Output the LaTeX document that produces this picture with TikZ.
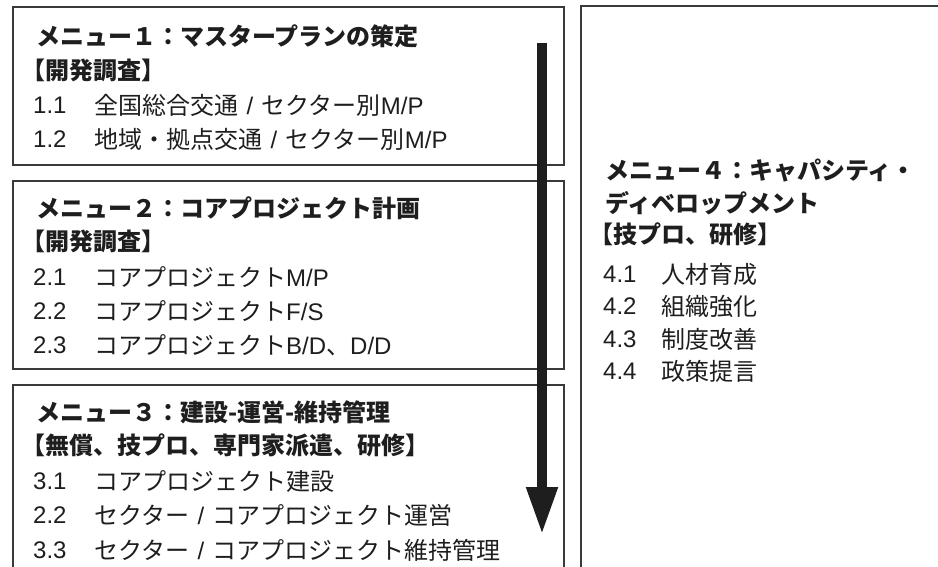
\documentclass[tikz,border=0pt]{standalone}
\usepackage{fontspec}
\newfontfamily\jp{Noto Sans CJK JP}
\newfontfamily\lat{Liberation Sans}
\usetikzlibrary{arrows.meta}
\definecolor{ink}{HTML}{1E1E1E}
\definecolor{rule}{HTML}{3A3A3A}
\newcommand{\slsh}{\hspace{8.5pt}{\lat/}\hspace{8.5pt}}
\tikzset{
  frame/.style={draw=rule, line width=1.2pt},
  ttl/.style={anchor=west, inner sep=0pt, font=\jp\bfseries\fontsize{24}{28}\selectfont, text=ink},
  itm/.style={anchor=west, inner sep=0pt, font=\jp\fontsize{24}{28}\selectfont, text=ink},
  num/.style={anchor=west, inner sep=0pt, font=\lat\fontsize{24}{28}\selectfont, text=ink},
  flow/.style={ink, line width=10.5pt, -{Triangle[width=29pt,length=48pt]}}
}
\begin{document}
\begin{tikzpicture}[x=1pt,y=-1pt]
\useasboundingbox (0,0) rectangle (938,567);
% boxes
\draw[frame] (13,7) rectangle (564,165);
\draw[frame] (13,181) rectangle (564,369);
\draw[frame] (13,385) rectangle (564,590);
\draw[frame] (581,6) rectangle (960,590);
% box 1
\node[ttl] (t1) at (36,36) {メニュー１：マスタープランの策定};
\node[ttl] (b1) at (21,70) {【開発調査】};
\node[num] (n11) at (33,105) {1.1};
\node[itm] (i11) at (94,105) {全国総合交通\slsh セクター別{\lat M/P}};
\node[num] (n12) at (33,139) {1.2};
\node[itm] (i12) at (94,139) {地域・拠点交通\slsh セクター別{\lat M/P}};
% box 2
\node[ttl] (t2) at (36,208) {メニュー２：コアプロジェクト計画};
\node[ttl] (b2) at (21,241) {【開発調査】};
\node[num] (n21) at (33,277) {2.1};
\node[itm] (i21) at (94,277) {コアプロジェクト{\lat M/P}};
\node[num] (n22) at (33,311) {2.2};
\node[itm] (i22) at (94,311) {コアプロジェクト{\lat F/S}};
\node[num] (n23) at (33,345) {2.3};
\node[itm] (i23) at (94,345) {コアプロジェクト{\lat B/D}、{\lat D/D}};
% box 3
\node[ttl] (t3) at (36,412) {メニュー３：建設-運営-維持管理};
\node[ttl] (b3) at (21,445) {【無償、技プロ、専門家派遣、研修】};
\node[num] (n31) at (33,481) {3.1};
\node[itm] (i31) at (94,481) {コアプロジェクト建設};
\node[num] (n32) at (33,515) {2.2};
\node[itm] (i32) at (94,515) {セクター\slsh コアプロジェクト運営};
\node[num] (n33) at (33,550) {3.3};
\node[itm] (i33) at (94,550) {セクター\slsh コアプロジェクト維持管理};
% box 4
\node[ttl] (t4a) at (605,171) {メニュー４：キャパシティ・};
\node[ttl] (t4b) at (605,203) {ディベロップメント};
\node[ttl] (b4) at (589,234) {【技プロ、研修】};
\node[num] (n41) at (603,274) {4.1};
\node[itm] (i41) at (661,274) {人材育成};
\node[num] (n42) at (603,306) {4.2};
\node[itm] (i42) at (661,306) {組織強化};
\node[num] (n43) at (603,339) {4.3};
\node[itm] (i43) at (661,339) {制度改善};
\node[num] (n44) at (603,371) {4.4};
\node[itm] (i44) at (661,371) {政策提言};
% arrow
\coordinate (atop) at (542,43);
\coordinate (atip) at (542,535);
\draw[flow] (atop) -- (atip);
\end{tikzpicture}
\end{document}
